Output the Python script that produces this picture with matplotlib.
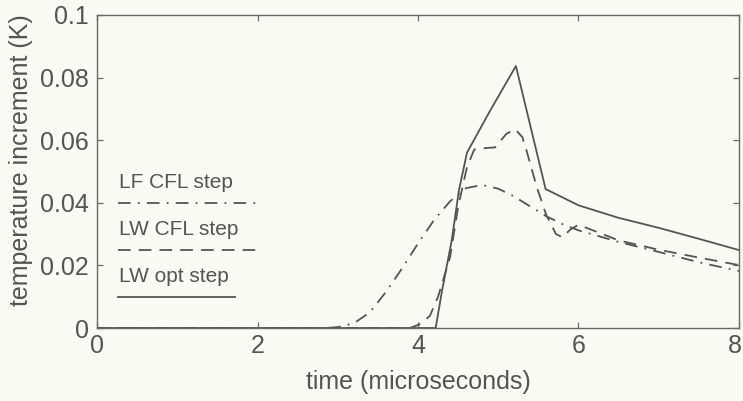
import matplotlib
matplotlib.use("Agg")
import matplotlib.pyplot as plt
from matplotlib.transforms import ScaledTranslation

# Palette (scanned print look)
_BG = "#fafaf2"
_INK = "#555550"
_AXIS = "#6a6a64"

plt.rcParams["font.family"] = ["Liberation Sans", "DejaVu Sans"]

# LF CFL step (dash-dot)
t_lf = [0.0, 2.85, 3.0, 3.2, 3.4, 3.6, 3.8, 4.0, 4.2, 4.4, 4.6, 4.8, 5.0,
        5.2, 5.4, 5.6, 5.8, 6.0, 6.5, 7.0, 7.5, 8.0]
T_lf = [0.0, 0.0, 0.0003, 0.0015, 0.005, 0.0115, 0.019, 0.027, 0.0345,
        0.0405, 0.0447, 0.0457, 0.0445, 0.042, 0.0388, 0.0357, 0.0332,
        0.0312, 0.0275, 0.0243, 0.021, 0.0182]

# LW CFL step (dashed)
t_lwc = [0.0, 3.9, 4.05, 4.15, 4.25, 4.40, 4.50, 4.61, 4.70, 4.85, 4.96,
         5.1, 5.21, 5.3, 5.35, 5.48, 5.6, 5.72, 5.8, 5.9, 6.0, 6.2, 6.5,
         7.0, 7.5, 8.0]
T_lwc = [0.0, 0.0, 0.0015, 0.004, 0.010, 0.0227, 0.0387, 0.0514, 0.057,
         0.0575, 0.0577, 0.062, 0.0635, 0.061, 0.0569, 0.045, 0.036, 0.030,
         0.029, 0.0315, 0.033, 0.031, 0.028, 0.025, 0.0225, 0.0201]

# LW opt step (solid)
t_lwo = [0.0, 4.22, 4.30, 4.42, 4.51, 4.61, 4.9, 5.22, 5.59, 6.0, 6.5,
         7.0, 7.5, 8.0]
T_lwo = [0.0, 0.0, 0.012, 0.028, 0.044, 0.056, 0.0695, 0.0837, 0.0444,
         0.0392, 0.0352, 0.032, 0.0285, 0.0249]

x_ticks = [0, 2, 4, 6, 8]
y_ticks = [0, 0.02, 0.04, 0.06, 0.08, 0.1]
y_ticklabels = ["0", "0.02", "0.04", "0.06", "0.08", "0.1"]

# hand-placed key (text + sample line, data coords)
key_labels = ["LF CFL step", "LW CFL step", "LW opt step"]
key_levels = [0.040, 0.025, 0.010]
key_ends = [2.0, 2.0, 1.72]

fig = plt.figure(figsize=(7.43, 4.01), dpi=100, facecolor=_BG)
ax = fig.add_axes([0.1306, 0.182, 0.864, 0.7806])
ax.set_facecolor(_BG)

dashdot = (0, (7, 4, 1, 4))
dashed = (0, (7, 4.5))
lw = 1.3

ax.plot(t_lf, T_lf, color=_INK, lw=lw, linestyle=dashdot)
ax.plot(t_lwc, T_lwc, color=_INK, lw=lw, linestyle=dashed)
ax.plot(t_lwo, T_lwo, color=_INK, lw=lw, linestyle="-")

styles = [dashdot, dashed, "-"]
for label, lev, end, ls in zip(key_labels, key_levels, key_ends, styles):
    ax.plot([0.26, end], [lev, lev], color=_INK, lw=lw, linestyle=ls)
    ax.text(0.27, lev + 0.0035, label, fontsize=15, color=_INK,
            ha="left", va="bottom")

ax.set_xlim(0, 8)
ax.set_ylim(0, 0.1)
ax.set_xticks(x_ticks)
ax.set_yticks(y_ticks)
ax.set_yticklabels(y_ticklabels)
ax.tick_params(direction="in", length=4, width=0.9, colors=_AXIS,
               labelcolor=_INK, labelsize=18, top=True, right=True)
ax.tick_params(axis="x", pad=4)
ax.tick_params(axis="y", pad=6)
for spine in ax.spines.values():
    spine.set_edgecolor(_AXIS)
    spine.set_linewidth(1.0)

# last x label sits on the figure edge; nudge it inside a bit
last = ax.get_xticklabels()[-1]
last.set_transform(last.get_transform()
                   + ScaledTranslation(-4 / 100, 0, fig.dpi_scale_trans))

ax.set_xlabel("time (microseconds)", fontsize=18, color=_INK, labelpad=9)
ax.set_ylabel("temperature increment (K)", fontsize=18, color=_INK)
ax.yaxis.set_label_coords(-0.099, 0.535)

fig.savefig("out.png", dpi=100, facecolor=_BG)
plt.close(fig)
